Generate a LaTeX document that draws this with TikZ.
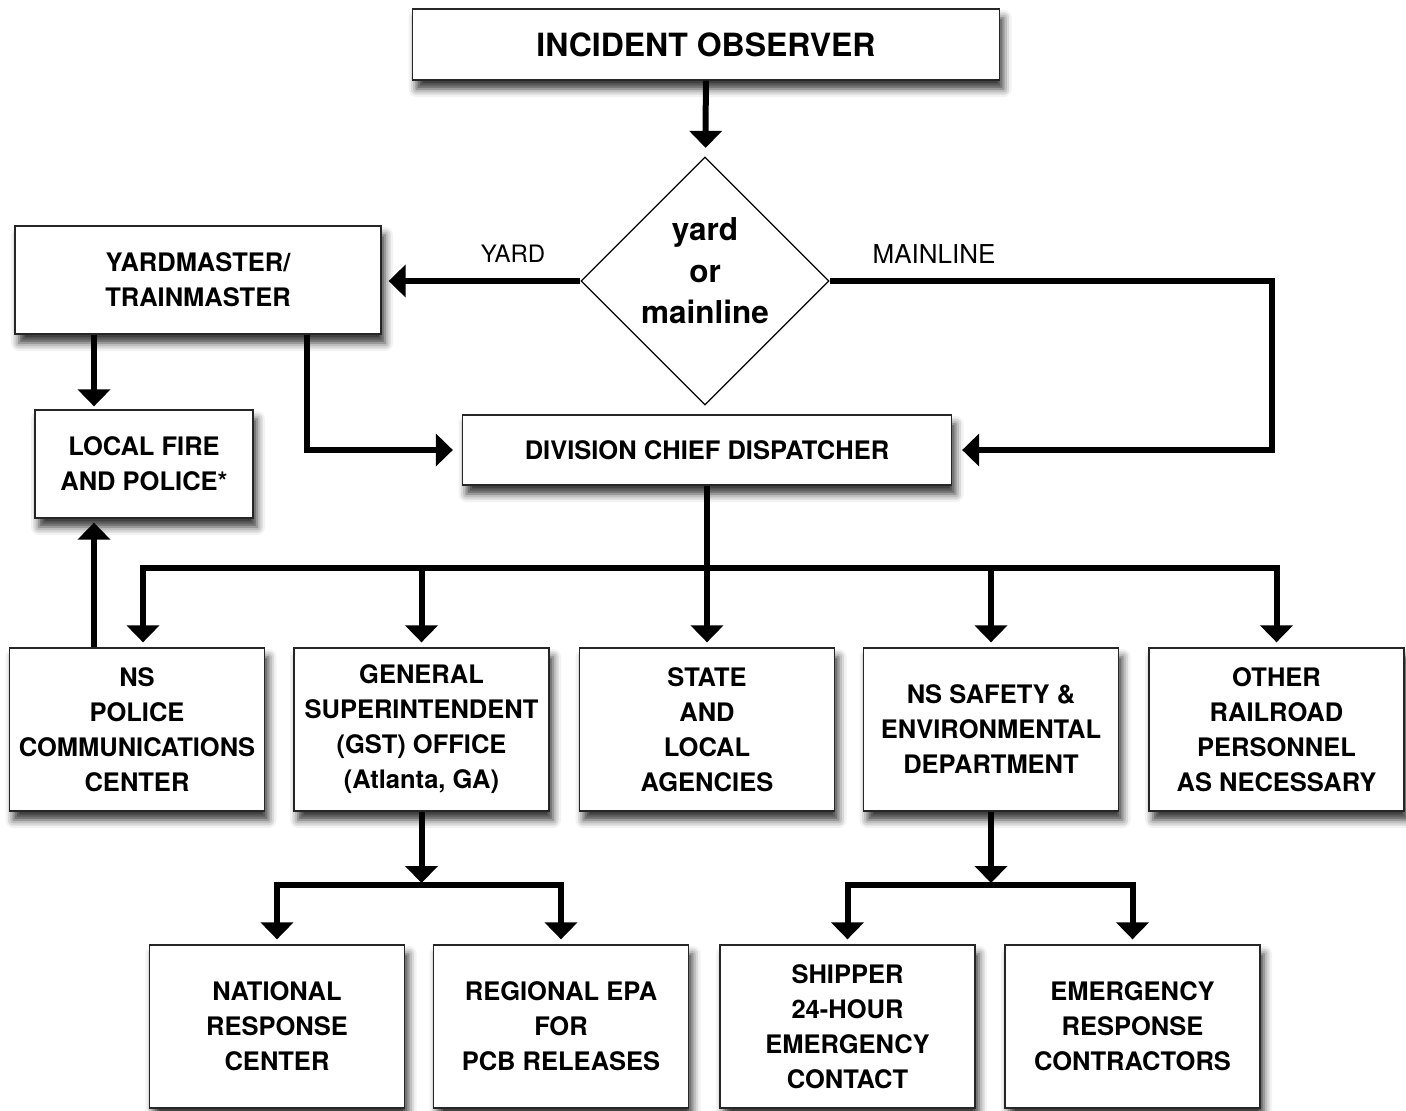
\documentclass[tikz,border=0pt]{standalone}
\usepackage{fontspec}
\setmainfont{TeX Gyre Heros}
\usetikzlibrary{arrows.meta,shapes.geometric,shadows.blur}

\tikzset{
  box/.style={draw=black!85, line width=1.3pt, fill=white, align=center, inner sep=0pt,
    minimum width=255pt, minimum height=163pt, font=\bfseries\fontsize{25.5}{35}\selectfont,
    blur shadow={shadow xshift=4pt, shadow yshift=-9pt, shadow blur radius=8pt, shadow opacity=80}},
  choice/.style={draw, diamond, aspect=1, line width=1.3pt, minimum size=248pt, inner sep=0pt},
  choicetext/.style={align=center, font=\bfseries\fontsize{31.5}{41.5}\selectfont},
  branchtext/.style={font=\fontsize{24}{28}\selectfont},
  arrow/.style={->, line width=6pt, shorten >=6pt},
  >={Triangle[width=32pt,length=17pt]}
}

\begin{document}
\begin{tikzpicture}[x=1pt,y=-1pt]
\useasboundingbox (0,0) rectangle (1406,1111);
% top part
\node[box, minimum width=587pt, minimum height=71pt, font=\bfseries\fontsize{32}{37}\selectfont] (observer) at (706,44.5) {INCIDENT OBSERVER};
\node[choice] (decision) at (705,281) {};
\node[choicetext, yshift=10pt] (decisiontext) at (decision) {yard\\or\\mainline};
\node[branchtext] (yardlabel) at (513,254) {YARD};
\node[branchtext, font=\fontsize{26}{30}\selectfont] (mainlabel) at (934,254) {MAINLINE};
\node[box, minimum width=366pt, minimum height=108pt] (yard) at (198,280) {YARDMASTER/\\TRAINMASTER};
\node[box, minimum width=218pt, minimum height=108pt] (fire) at (144,464) {LOCAL FIRE\\AND POLICE*};
\node[box, minimum width=489pt, minimum height=70pt] (dispatcher) at (707,450) {DIVISION CHIEF DISPATCHER};
% middle row
\node[box] (police) at (137,729.5) {NS\\POLICE\\COMMUNICATIONS\\CENTER};
\node[box] (gst) at (421.5,729.5) {GENERAL\\SUPERINTENDENT\\(GST) OFFICE\\(Atlanta, GA)};
\node[box] (state) at (707,729.5) {STATE\\AND\\LOCAL\\AGENCIES};
\node[box] (safety) at (991,729.5) {NS SAFETY \&\\ENVIRONMENTAL\\DEPARTMENT};
\node[box] (other) at (1276.5,729.5) {OTHER\\RAILROAD\\PERSONNEL\\AS NECESSARY};
% bottom row
\node[box] (national) at (277,1026.5) {NATIONAL\\RESPONSE\\CENTER};
\node[box] (regional) at (561,1026.5) {REGIONAL EPA\\FOR\\PCB RELEASES};
\node[box] (shipper) at (847.5,1026.5) {SHIPPER\\24-HOUR\\EMERGENCY\\CONTACT};
\node[box] (contractors) at (1132.5,1026.5) {EMERGENCY\\RESPONSE\\CONTRACTORS};
\coordinate (mainbend) at (1272,281);
\coordinate (gstfork) at (421.5,885);
\coordinate (safetyfork) at (991,885);

% connectors
\draw[arrow, shorten >=9pt] (observer) -- (decision);
\draw[arrow, shorten >=7pt] (decision.west) -- (decision.west -| yard.east);
\draw[arrow, shorten >=10pt] (decision.east) -- (mainbend) |- (dispatcher.east);
\draw[arrow, shorten >=3pt] ([xshift=-104pt]yard.south) -- ([xshift=-104pt]yard.south |- fire.north);
\draw[arrow, shorten >=9pt] ([xshift=109pt]yard.south) |- (dispatcher.west);
\draw[arrow, shorten >=5pt] (dispatcher.south) -- ++(0,82) -| ([xshift=6pt]police.north);
\draw[arrow, shorten >=5pt] (dispatcher.south) -- ++(0,82) -| (gst.north);
\draw[arrow, shorten >=5pt] (dispatcher.south) -- (state.north);
\draw[arrow, shorten >=5pt] (dispatcher.south) -- ++(0,82) -| (safety.north);
\draw[arrow, shorten >=5pt] (dispatcher.south) -- ++(0,82) -| (other.north);
\draw[arrow, shorten >=4pt] ([xshift=-43pt]police.north) -- ([xshift=-43pt]police.north |- fire.south);
\draw[arrow, shorten >=2pt] (gst.south) -- (gstfork);
\draw[arrow, shorten >=5pt] (gstfork) -| (national.north);
\draw[arrow, shorten >=5pt] (gstfork) -| (regional.north);
\draw[arrow, shorten >=2pt] (safety.south) -- (safetyfork);
\draw[arrow, shorten >=5pt] (safetyfork) -| (shipper.north);
\draw[arrow, shorten >=5pt] (safetyfork) -| (contractors.north);
\end{tikzpicture}
\end{document}
